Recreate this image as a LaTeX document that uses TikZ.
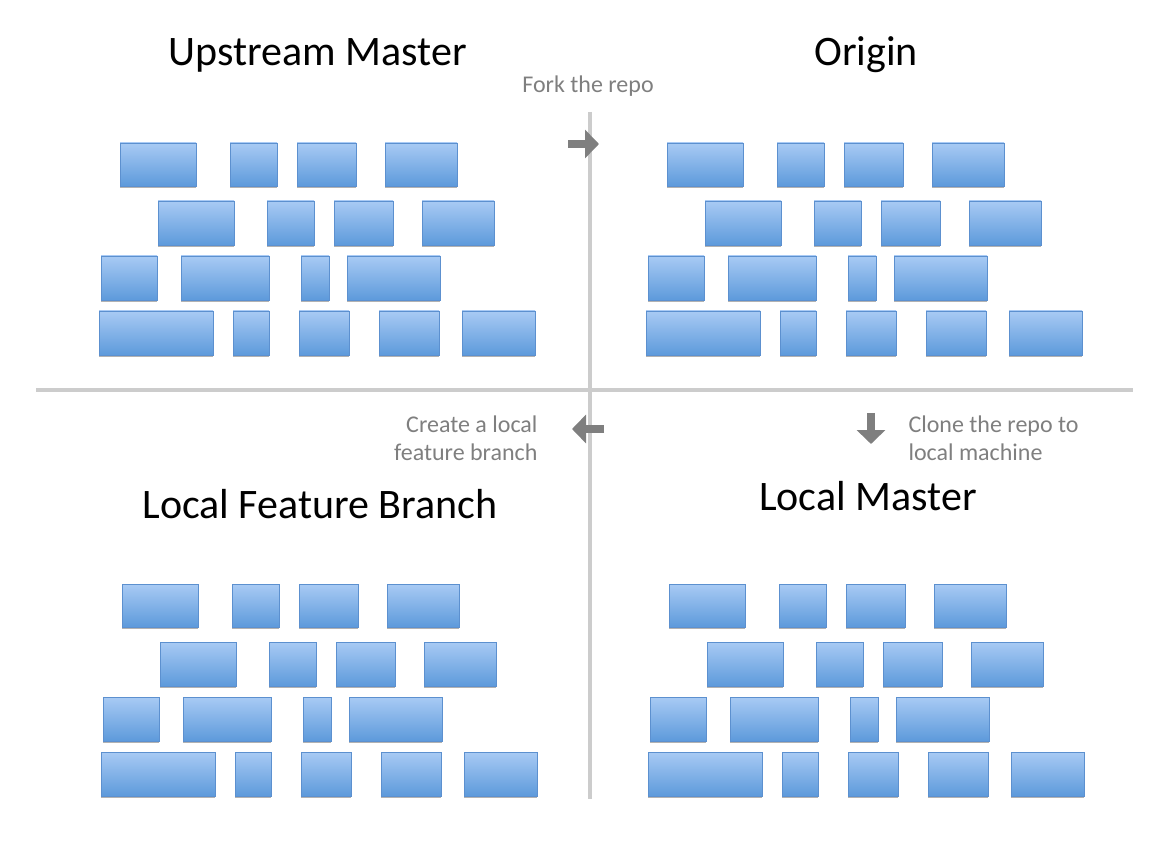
\documentclass[tikz,border=0pt]{standalone}
\usepackage{fontspec}
\setmainfont{Carlito}
\usetikzlibrary{arrows.meta,shadows,calc}

\definecolor{bricktop}{HTML}{A8CAF4}
\definecolor{brickbot}{HTML}{5D9ADB}
\definecolor{brickline}{HTML}{5C90CF}
\definecolor{steptext}{HTML}{7F7F7F}
\definecolor{divider}{HTML}{CCCCCC}

% one wall of bricks, x1/x2/y1/y2 in px
\newcommand{\brickwall}[2]{%
  \foreach \xa/\xb/\ya/\yb in {120/196/143/186, 230/277/143/186, 297/356/143/186, 385/457/143/186,
      158/234/201/245, 267/314/201/245, 334/393/201/245, 422/494/201/245,
      101/157/256/300, 181/269/256/300, 301/329/256/300, 347/440/256/300,
      99/213/311/355, 233/269/311/355, 299/349/311/355, 379/439/311/355, 462/535/311/355}
    \draw[brick] ($(#1,#2)+(\xa,\ya)$) rectangle ($(#1,#2)+(\xb,\yb)$);
}

\begin{document}
\begin{tikzpicture} [x=1pt, y=-1pt,
    brick/.style={draw=brickline, line width=0.8pt, top color=bricktop, bottom color=brickbot,
      drop shadow={shadow xshift=0pt, shadow yshift=-2pt, opacity=0.3, fill=black}},
    title/.style={font=\fontsize{42}{50}\selectfont, text=black},
    steplabel/.style={font=\fontsize{24}{28}\selectfont, text=steptext},
    steparrow/.style={steptext, line width=8pt, -{Triangle[width=28pt, length=14pt]}}
  ]

\useasboundingbox (0,0) rectangle (1154,866);

% dividers
\draw[divider, line width=4pt] (36,390) -- (1133,390);
\draw[divider, line width=3.5pt] (590,112) -- (590,799);

% the four walls
\brickwall{0}{0}
\brickwall{547}{0}
\brickwall{2}{441}
\brickwall{549}{441}

% titles
\node[title] (upstream) at (318,55) {Upstream Master};
\node[title] (origin) at (866,55) {Origin};
\node[title] (feature) at (320,504) {Local Feature Branch};
\node[title] (localmaster) at (868,496) {Local Master};

% steps
\node[steplabel] (fork) at (588,86) {Fork the repo};
\coordinate (forka) at (568,144);
\coordinate (forkb) at (599,144);
\draw[steparrow] (forka) -- (forkb);

\node[steplabel, align=right, anchor=east] (create) at (541,438) {Create a local\\feature branch};
\coordinate (createa) at (604,429);
\coordinate (createb) at (572,429);
\draw[steparrow] (createa) -- (createb);

\node[steplabel, align=left, anchor=west] (clone) at (905,438) {Clone the repo to\\local machine};
\coordinate (clonea) at (871,413);
\coordinate (cloneb) at (871,444);
\draw[steparrow] (clonea) -- (cloneb);

\end{tikzpicture}
\end{document}
